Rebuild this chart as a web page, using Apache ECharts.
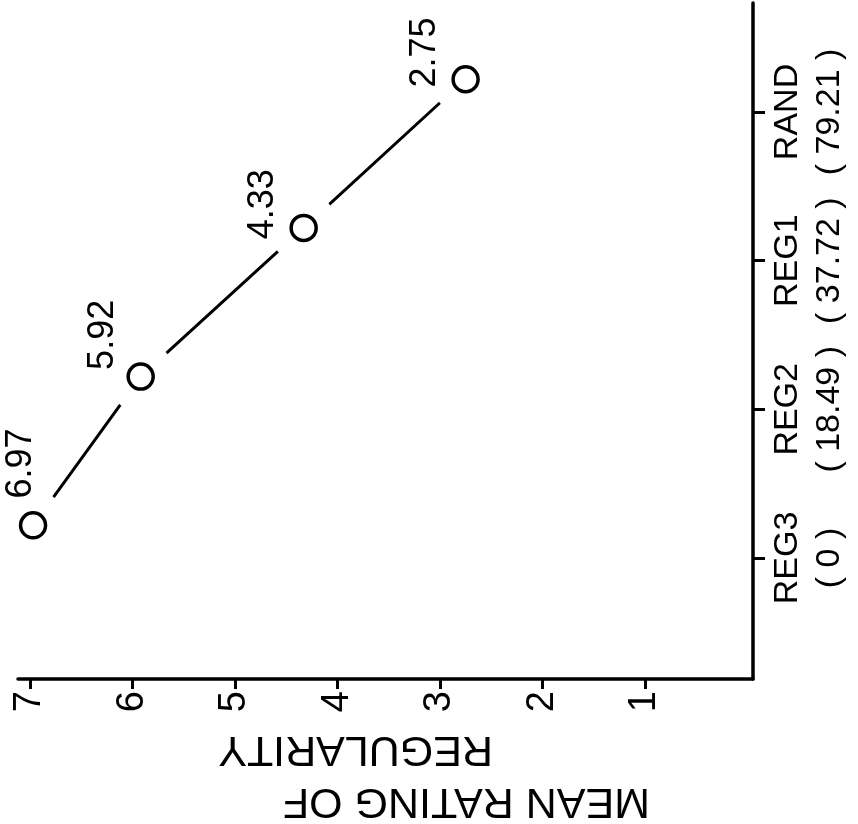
<!DOCTYPE html>
<html>
<head>
<meta charset="utf-8">
<script src="https://cdn.jsdelivr.net/npm/echarts@6/dist/echarts.min.js"></script>
<style>
html,body{margin:0;padding:0;background:#fff}
#c{width:858px;height:824px}
</style>
</head>
<body>
<div id="c"></div>
<script>
// ---- data ----
const categories = ['REG3', 'REG2', 'REG1', 'RAND'];
const percentRegular = ['0', '18.49', '37.72', '79.21'];
const meanRatings = [6.97, 5.92, 4.33, 2.75];
const ratingTicks = [1, 2, 3, 4, 5, 6, 7];
const categoryTicks = [0, 1, 2, 3];

// ---- layout / style constants ----
const markerShift = 0.22;
const labelShift = [[-10, -60], [-36, -40], [-39, -22], [-39, -25]];
const FONT = '"Liberation Sans", Arial, Helvetica, sans-serif';
const INK = '#000';

const chart = echarts.init(document.getElementById('c'), null, { renderer: 'canvas' });
const pts = meanRatings.map((v, i) => [v, i + markerShift]);

const option = {
  animation: false,
  backgroundColor: '#fff',
  grid: { left: 18, right: 105, top: 3, bottom: 145, outerBoundsMode: 'none' },
  xAxis: {
    type: 'value',
    inverse: true,
    min: -0.054,
    max: 7.117,
    position: 'bottom',
    axisLine: { show: true, onZero: false, lineStyle: { color: INK, width: 3.5 } },
    axisTick: { show: true, customValues: ratingTicks, length: 10, lineStyle: { color: INK, width: 3 } },
    axisLabel: { customValues: ratingTicks, rotate: 90, margin: 12, fontSize: 38, fontFamily: FONT, color: INK },
    splitLine: { show: false },
    name: '{a|MEAN RATING OF}\n{b|REGULARITY}',
    nameLocation: 'middle',
    nameRotate: 180,
    nameGap: 44,
    nameTextStyle: {
      fontFamily: FONT, fontSize: 43, color: INK,
      rich: {
        a: { width: 529, align: 'left', fontSize: 43, fontFamily: FONT, color: INK, lineHeight: 52 },
        b: { width: 372, align: 'left', padding: [0, 0, 0, 157], fontSize: 43, fontFamily: FONT, color: INK, lineHeight: 52 }
      }
    }
  },
  yAxis: {
    type: 'value',
    position: 'right',
    min: -0.814,
    max: 3.733,
    axisLine: { show: true, onZero: false, lineStyle: { color: INK, width: 3.5 } },
    axisTick: { show: true, customValues: categoryTicks, length: 12, lineStyle: { color: INK, width: 3 } },
    axisLabel: {
      customValues: categoryTicks,
      formatter: v => { const i = Math.round(v); return categories[i] + '\n( ' + percentRegular[i] + ' )'; },
      rotate: 90, margin: 14, fontSize: 34, lineHeight: 42, fontFamily: FONT, color: INK
    },
    splitLine: { show: false }
  },
  series: [
    {
      type: 'line', data: pts, showSymbol: false, silent: true, z: 1,
      lineStyle: { color: INK, width: 3 }
    },
    {
      type: 'scatter', data: pts, symbol: 'circle', symbolSize: 70, silent: true, z: 2,
      itemStyle: { color: '#fff', opacity: 1 }
    },
    {
      type: 'scatter', z: 3, symbol: 'circle', symbolSize: 25,
      data: pts.map((p, i) => ({ value: p, label: { position: [12.5 + labelShift[i][0], 12.5 + labelShift[i][1]] } })),
      itemStyle: { color: '#fff', borderColor: INK, borderWidth: 3.5, opacity: 1 },
      label: {
        show: true, rotate: 90, align: 'center', verticalAlign: 'middle',
        formatter: p => meanRatings[p.dataIndex].toFixed(2),
        fontSize: 36, fontFamily: FONT, color: INK
      }
    }
  ]
};
chart.setOption(option);
</script>
</body>
</html>
